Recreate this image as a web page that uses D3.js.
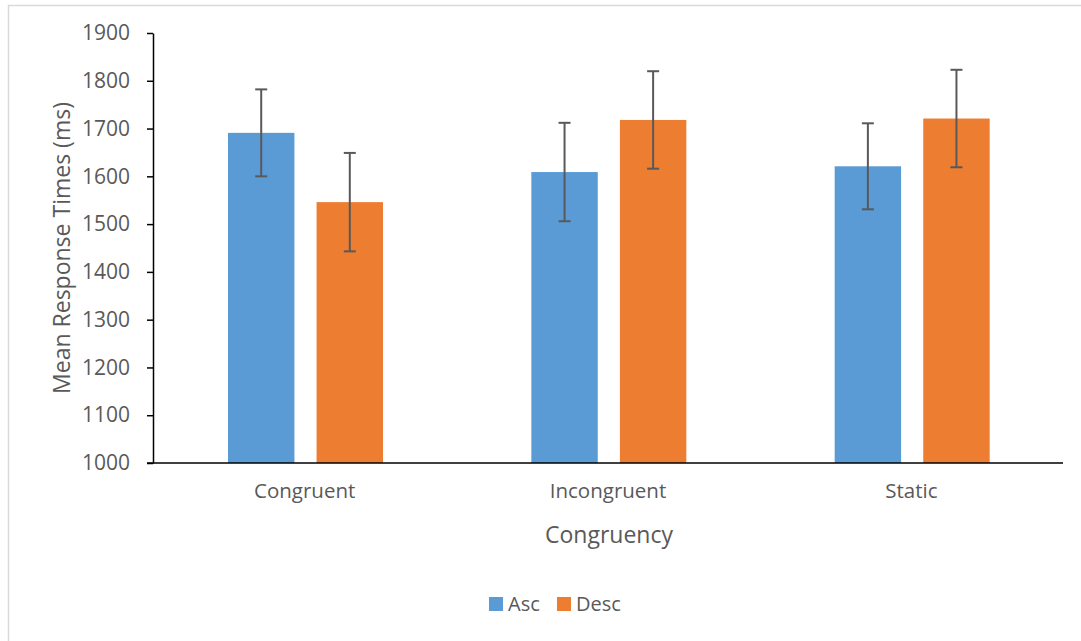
<!DOCTYPE html>
<html>
<head>
<meta charset="utf-8">
<script src="https://cdn.jsdelivr.net/npm/d3@7"></script>
<style>
  html, body { margin: 0; padding: 0; background: #fff; }
  svg { display: block; }
  text { font-family: "Open Sans", "Noto Sans", sans-serif; fill: #595959; }
</style>
</head>
<body>
<svg id="chart" width="1081" height="641"></svg>
<script>
const categories = ["Congruent", "Incongruent", "Static"];
const seriesNames = ["Asc", "Desc"];
const ascValues = [1691, 1609, 1621];
const descValues = [1546, 1718, 1721];
const ascErrors = [91, 103, 90];
const descErrors = [103, 102, 102];
const yTicks = [1000, 1100, 1200, 1300, 1400, 1500, 1600, 1700, 1800, 1900];
const colors = ["#5B9BD5", "#ED7D31"];

(function () {
const svg = d3.select("#chart");

// outer chart border (cropped at right/bottom)
svg.append("rect")
  .attr("x", 8.5).attr("y", 5.5)
  .attr("width", 1100).attr("height", 700)
  .attr("fill", "none").attr("stroke", "#d9d9d9").attr("stroke-width", 1.5);

const mLeft = 153, mRight = 1063, mTop = 33, mBottom = 463;

const x0 = d3.scaleBand().domain(categories).range([mLeft, mRight]).paddingInner(0).paddingOuter(0);
const x1 = d3.scaleBand().domain(seriesNames).range([75, 230]).paddingInner(0.25);
const y = d3.scaleLinear().domain([1000, 1900]).range([mBottom, mTop]);

const data = categories.map((c, i) => ({
  cat: c,
  vals: [
    { s: "Asc", v: ascValues[i], e: ascErrors[i], color: colors[0] },
    { s: "Desc", v: descValues[i], e: descErrors[i], color: colors[1] }
  ]
}));

const groups = svg.append("g").selectAll("g").data(data).join("g")
  .attr("transform", d => `translate(${x0(d.cat)},0)`);

groups.selectAll("rect").data(d => d.vals).join("rect")
  .attr("x", d => x1(d.s))
  .attr("width", x1.bandwidth())
  .attr("y", d => y(d.v))
  .attr("height", d => y(1000) - y(d.v))
  .attr("fill", d => d.color);

// error bars
const eb = groups.selectAll("g.err").data(d => d.vals).join("g").attr("class", "err")
  .attr("stroke", "#595959").attr("stroke-width", 2);
const cx = d => x1(d.s) + x1.bandwidth() / 2;
eb.append("line")
  .attr("x1", cx).attr("x2", cx)
  .attr("y1", d => y(d.v + d.e))
  .attr("y2", d => y(d.v - d.e));
eb.append("line")
  .attr("x1", d => cx(d) - 6).attr("x2", d => cx(d) + 6)
  .attr("y1", d => y(d.v + d.e)).attr("y2", d => y(d.v + d.e));
eb.append("line")
  .attr("x1", d => cx(d) - 6).attr("x2", d => cx(d) + 6)
  .attr("y1", d => y(d.v - d.e)).attr("y2", d => y(d.v - d.e));

// y axis
const yAxis = svg.append("g").attr("transform", `translate(${mLeft},0)`)
  .call(d3.axisLeft(y).tickValues(yTicks).tickSize(6).tickSizeOuter(0).tickPadding(17).tickFormat(d3.format("d")));
yAxis.select(".domain").attr("stroke", "#000").attr("stroke-width", 1.5);
yAxis.selectAll(".tick line").attr("stroke", "#000").attr("stroke-width", 1.5);
yAxis.selectAll(".tick text").attr("font-size", 21).style("fill", "#595959")
  .attr("font-family", "Open Sans");

// x axis
const xAxis = svg.append("g").attr("transform", `translate(0,${mBottom})`)
  .call(d3.axisBottom(x0).tickSize(0).tickSizeOuter(0).tickPadding(20));
xAxis.select(".domain").attr("stroke", "#000").attr("stroke-width", 1.5)
  .attr("d", `M${mLeft - 6},0H${mRight}`);
xAxis.selectAll(".tick text").attr("font-size", 20.5).style("fill", "#595959")
  .attr("font-family", "Open Sans");

// axis titles
svg.append("text")
  .attr("x", (mLeft + mRight) / 2 + 1).attr("y", 543)
  .attr("text-anchor", "middle").attr("font-size", 23)
  .text("Congruency");
svg.append("text")
  .attr("transform", `translate(70,${(mTop + mBottom) / 2}) rotate(-90)`)
  .attr("text-anchor", "middle").attr("font-size", 23)
  .text("Mean Response Times (ms)");

// legend
const legend = svg.append("g");
const legendItems = [
  { name: "Asc", x: 489, color: colors[0] },
  { name: "Desc", x: 557, color: colors[1] }
];
legendItems.forEach(it => {
  legend.append("rect").attr("x", it.x).attr("y", 597).attr("width", 14).attr("height", 14).attr("fill", it.color);
  legend.append("text").attr("x", it.x + 19).attr("y", 611).attr("font-size", 20).text(it.name);
});
})();
</script>
</body>
</html>
